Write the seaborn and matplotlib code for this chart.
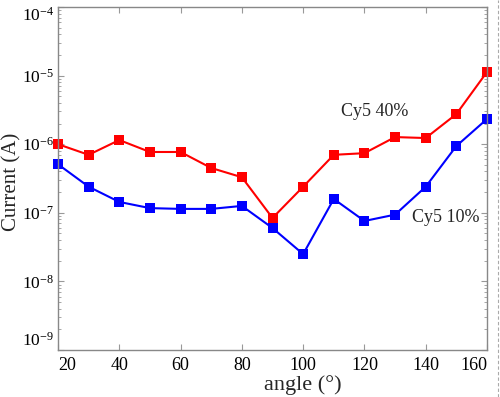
import matplotlib
matplotlib.use("Agg")
import matplotlib.pyplot as plt
import seaborn as sns
import pandas as pd
import numpy as np
from matplotlib.lines import Line2D
from matplotlib.ticker import LogLocator, LogFormatterSciNotation, NullFormatter

# ---- data ----
angle = [20, 30, 40, 50, 60, 70, 80, 90, 100, 110, 120, 130, 140, 150, 160]
cy5_40 = [1.0e-6, 7.0e-7, 1.15e-6, 7.7e-7, 7.7e-7, 4.5e-7, 3.3e-7, 8.4e-8,
          2.4e-7, 7.0e-7, 7.4e-7, 1.27e-6, 1.23e-6, 2.75e-6, 1.13e-5]
cy5_10 = [5.1e-7, 2.4e-7, 1.44e-7, 1.17e-7, 1.14e-7, 1.14e-7, 1.26e-7, 6.0e-8,
          2.5e-8, 1.59e-7, 7.6e-8, 9.4e-8, 2.4e-7, 9.4e-7, 2.33e-6]
series_names = ["Cy5 40%", "Cy5 10%"]
x_ticks = [20, 40, 60, 80, 100, 120, 140, 160]
y_ticks = [1e-9, 1e-8, 1e-7, 1e-6, 1e-5, 1e-4]

df = pd.DataFrame({
    "angle": angle * 2,
    "current": cy5_40 + cy5_10,
    "series": [series_names[0]] * len(angle) + [series_names[1]] * len(angle),
})

sns.set_style("ticks")
plt.rcParams["font.family"] = ["Liberation Serif", "DejaVu Serif"]
plt.rcParams["mathtext.fontset"] = "custom"
plt.rcParams["mathtext.rm"] = "Liberation Serif"
plt.rcParams["mathtext.it"] = "Liberation Serif:italic"

fig = plt.figure(figsize=(5.0, 3.97), dpi=100)
ax = fig.add_axes([58 / 500, 1 - 350 / 397, (487 - 58) / 500, (350 - 7) / 397])

sns.lineplot(data=df, x="angle", y="current", hue="series",
             palette={series_names[0]: "#ff0000", series_names[1]: "#0000ff"},
             marker="s", markersize=7, markeredgewidth=0, linewidth=1.5,
             legend=False, ax=ax, clip_on=False)

ax.set_yscale("log")
ax.set_xlim(20, 160)
ax.set_ylim(1e-9, 1e-4)
ax.set_xticks(x_ticks)
ax.set_yticks(y_ticks)
ax.yaxis.set_major_formatter(LogFormatterSciNotation())
ax.yaxis.set_minor_locator(LogLocator(base=10, subs=np.arange(2, 10)))
ax.yaxis.set_minor_formatter(NullFormatter())

for s in ax.spines.values():
    s.set_color("#888888")
    s.set_linewidth(1.0)
ax.tick_params(which="both", direction="in", top=True, right=True,
               color="#999999", labelcolor="black")
ax.tick_params(which="major", length=4, width=0.8)
ax.tick_params(which="minor", length=2, width=0.6)
ax.tick_params(axis="x", labelsize=13, pad=5)
ax.tick_params(axis="y", labelsize=12.5, pad=3)

ax.set_xlabel("angle (°)", fontsize=16)
ax.xaxis.label.set_va("center")
ax.xaxis.set_label_coords((303 - 58) / 429, -(385 - 350) / 343)
ax.set_ylabel("Current (A)", fontsize=15)
ax.yaxis.label.set_va("center")
ax.yaxis.set_label_coords(-(58 - 12) / 429, (350 - 182) / 343)

# shift edge tick labels inward like the reference
xl = ax.get_xticklabels()
xl[0].set_ha("left")
xl[-1].set_ha("right")
yl = ax.get_yticklabels()
yl[0].set_va("bottom")
yl[-1].set_va("top")

fig.text(375 / 500, 1 - 111 / 397, series_names[0], fontsize=13, ha="center", va="center")
fig.text(446 / 500, 1 - 217 / 397, series_names[1], fontsize=13, ha="center", va="center")

# dashed page border on the right
fig.add_artist(Line2D([498 / 500, 498 / 500], [0, 1], transform=fig.transFigure,
                      color="#aaaaaa", linestyle=(0, (3, 2)), linewidth=0.8))

fig.savefig("out.png", dpi=100)
